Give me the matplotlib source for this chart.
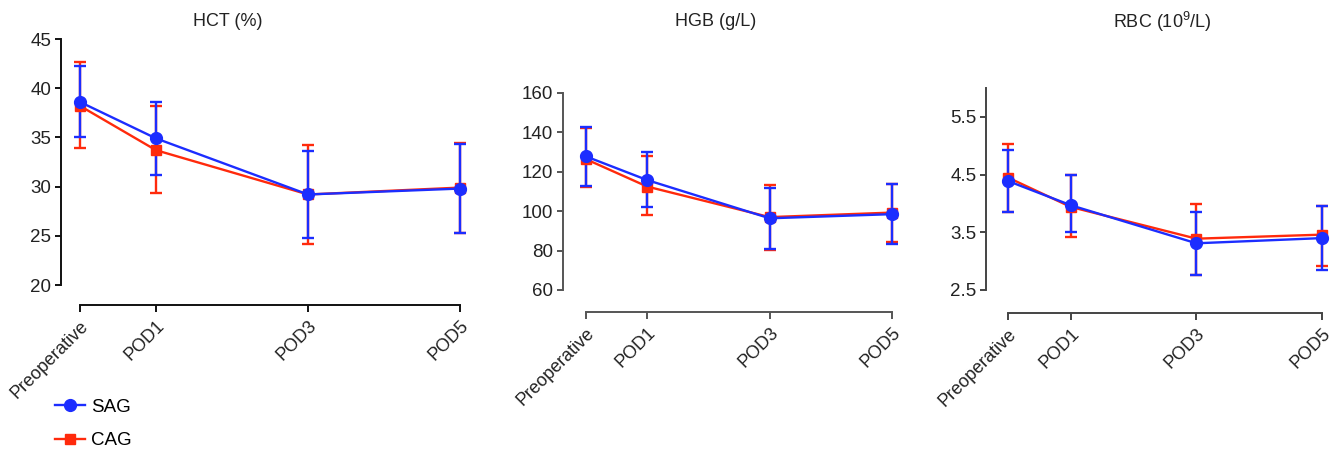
import numpy as np
import matplotlib
matplotlib.use('Agg')
import matplotlib.pyplot as plt
from matplotlib.lines import Line2D

plt.rcParams['font.family'] = ['Liberation Sans', 'DejaVu Sans']
plt.rcParams['mathtext.fontset'] = 'custom'
plt.rcParams['mathtext.rm'] = 'Liberation Sans'

# dane
dni = [0, 1, 3, 5]
etykiety = ['Preoperative', 'POD1', 'POD3', 'POD5']

hct_sag = [38.6, 34.9, 29.2, 29.8]
hct_sag_lo = [35.0, 31.2, 24.8, 25.3]
hct_sag_hi = [42.3, 38.6, 33.6, 34.3]
hct_cag = [38.2, 33.7, 29.2, 29.9]
hct_cag_lo = [33.9, 29.4, 24.2, 25.3]
hct_cag_hi = [42.7, 38.2, 34.2, 34.4]

hgb_sag = [127.8, 115.8, 96.4, 98.5]
hgb_sag_lo = [113.0, 102.0, 81.0, 83.2]
hgb_sag_hi = [142.5, 129.8, 112.0, 113.7]
hgb_cag = [126.4, 112.5, 97.0, 99.3]
hgb_cag_lo = [112.2, 98.1, 80.3, 84.6]
hgb_cag_hi = [142.2, 128.1, 113.4, 113.7]

rbc_sag = [4.39, 3.97, 3.31, 3.40]
rbc_sag_lo = [3.85, 3.50, 2.76, 2.84]
rbc_sag_hi = [4.93, 4.49, 3.85, 3.96]
rbc_cag = [4.45, 3.94, 3.39, 3.46]
rbc_cag_lo = [3.85, 3.42, 2.76, 2.92]
rbc_cag_hi = [5.03, 4.50, 3.99, 3.96]

NIEBIESKI = '#1c2dff'
CZERWONY = '#ff2a0c'
W, H = 1341, 451


def rysuj_panel(fig, box, xmap, ymap, ybounds, yticks, tytul, tx,
                sag, sag_lo, sag_hi, cag, cag_lo, cag_hi, kolor_osi):
    left, right, top, bottom = box
    ax = fig.add_axes([left / W, 1 - bottom / H, (right - left) / W, (bottom - top) / H])

    # przeliczenie pikseli na granice osi
    x0, x5 = xmap
    k = (x5 - x0) / 5
    ax.set_xlim(-(x0 - left) / k, 5 + (right - x5) / k)
    (ya, va), (yb, vb) = ymap
    m = (yb - ya) / (va - vb)
    ax.set_ylim(vb - (bottom - yb) / m, va + (ya - top) / m)

    for wart, lo, hi, kol, mk, ms in [(cag, cag_lo, cag_hi, CZERWONY, 's', 7.5),
                                      (sag, sag_lo, sag_hi, NIEBIESKI, 'o', 8.5)]:
        wart = np.array(wart)
        err = [wart - np.array(lo), np.array(hi) - wart]
        ax.errorbar(dni, wart, yerr=err, color=kol, marker=mk, markersize=ms,
                    linewidth=1.7, elinewidth=1.7, capsize=4.5, capthick=1.7,
                    clip_on=False)

    for s in ['top', 'right']:
        ax.spines[s].set_visible(False)
    ax.spines['left'].set_bounds(*ybounds)
    ax.spines['bottom'].set_bounds(0, 5)
    for s in ['left', 'bottom']:
        ax.spines[s].set_color(kolor_osi)
        ax.spines[s].set_linewidth(1.4)

    ax.set_yticks(yticks)
    ax.set_xticks(dni)
    ax.set_xticklabels(etykiety, rotation=45, ha='right', va='top',
                       rotation_mode='anchor', fontsize=13, color='#222222')
    ax.tick_params(axis='y', labelsize=13.5, length=4, width=1.4, color=kolor_osi,
                   labelcolor='#222222', pad=3)
    ax.tick_params(axis='x', length=5, width=1.4, color=kolor_osi, pad=4)
    ax.patch.set_alpha(0)

    fig.text(tx / W, 1 - 22 / H, tytul, ha='center', va='center',
             fontsize=13, color='#222222')
    return ax


fig = plt.figure(figsize=(W / 100, H / 100), dpi=100)

rysuj_panel(fig, (61, 465, 39, 305), (80, 460), ((39, 45), (285, 20)), (20, 45),
            [20, 25, 30, 35, 40, 45], 'HCT (%)', 228,
            hct_sag, hct_sag_lo, hct_sag_hi, hct_cag, hct_cag_lo, hct_cag_hi, '#111111')
rysuj_panel(fig, (563, 895, 93, 312), (586, 892), ((93, 160), (290, 60)), (60, 160),
            [60, 80, 100, 120, 140, 160], 'HGB (g/L)', 716,
            hgb_sag, hgb_sag_lo, hgb_sag_hi, hgb_cag, hgb_cag_lo, hgb_cag_hi, '#555555')
rysuj_panel(fig, (986, 1325, 89, 313), (1008, 1322), ((117, 5.5), (290, 2.5)), (2.5, 6.0),
            [2.5, 3.5, 4.5, 5.5], r'RBC (10$^{\mathregular{9}}$/L)', 1162,
            rbc_sag, rbc_sag_lo, rbc_sag_hi, rbc_cag, rbc_cag_lo, rbc_cag_hi, '#444444')

# legenda
uchwyty = [Line2D([], [], color=NIEBIESKI, marker='o', markersize=8.5, linewidth=1.7),
           Line2D([], [], color=CZERWONY, marker='s', markersize=7.5, linewidth=1.7)]
fig.legend(uchwyty, ['SAG', 'CAG'], loc='center left',
           bbox_to_anchor=(46 / W, 1 - 424 / H), frameon=False, fontsize=13.5,
           handlelength=1.6, handletextpad=0.3, labelspacing=0.85, borderpad=0)

plt.savefig('out.png', dpi=100)
